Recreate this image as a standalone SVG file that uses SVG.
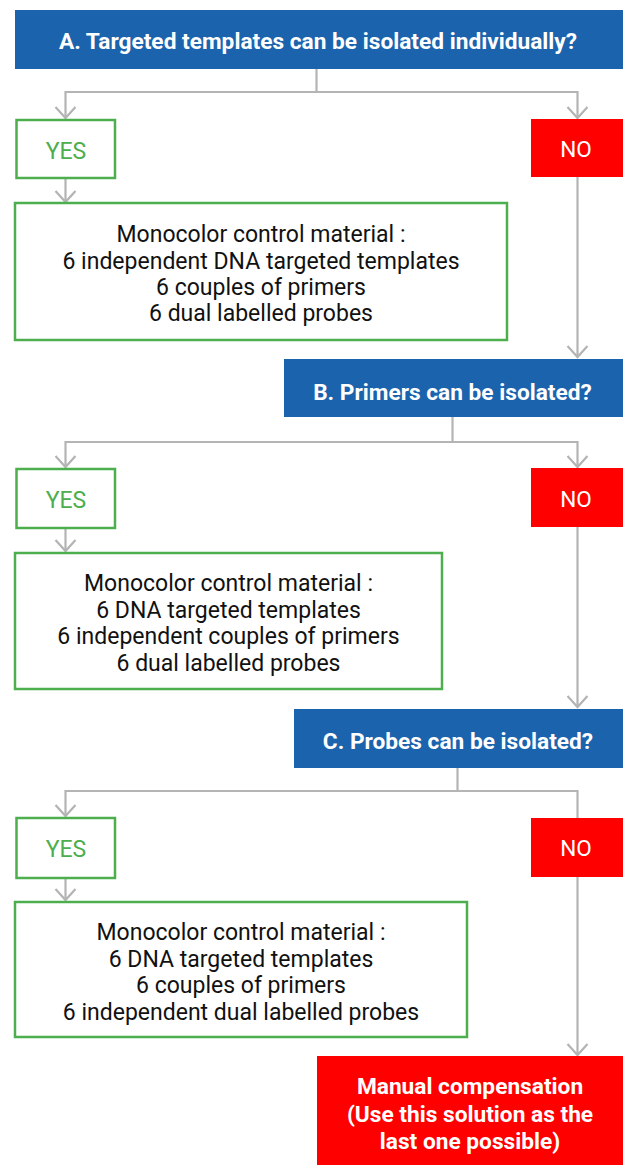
<svg xmlns="http://www.w3.org/2000/svg" width="623" height="1165" viewBox="0 0 623 1165">
<defs>
<style>
.q{fill:#1b63ad}
.qt{font-family:Roboto,"Liberation Sans",sans-serif;font-weight:bold;font-size:22.7px;fill:#fff;text-anchor:middle}
.yes{fill:#fff;stroke:#4cae4c;stroke-width:2.5}
.yt{font-family:Roboto,"Liberation Sans",sans-serif;font-size:23px;fill:#4cae4c;text-anchor:middle}
.no{fill:#ff0000}
.nt{font-family:Roboto,"Liberation Sans",sans-serif;font-size:22.5px;fill:#fff;text-anchor:middle}
.mt{font-family:Roboto,"Liberation Sans",sans-serif;font-size:23px;fill:#111;text-anchor:middle}
.c{fill:none;stroke:#b4b4b4;stroke-width:2.2}
</style>
<marker id="ah" markerUnits="userSpaceOnUse" markerWidth="30" markerHeight="30" refX="0" refY="0" viewBox="-15 -15 30 30" orient="auto" overflow="visible">
<path d="M-11,-10 L0,0 L-11,10" fill="none" stroke="#b4b4b4" stroke-width="2.2"/>
</marker>
</defs>
<rect width="623" height="1165" fill="#fff"/>

<g id="connectors">
<path class="c" d="M316.5,69 V92"/>
<path class="c" d="M65.5,92 H577.5"/>
<path class="c" d="M65.5,91 V118" marker-end="url(#ah)"/>
<path class="c" d="M577.5,91 V118" marker-end="url(#ah)"/>
<path class="c" d="M65.5,178 V202" marker-end="url(#ah)"/>
<path class="c" d="M577.5,177 V357" marker-end="url(#ah)"/>

<path class="c" d="M452.5,417 V442"/>
<path class="c" d="M65.5,442 H577.5"/>
<path class="c" d="M65.5,441 V467" marker-end="url(#ah)"/>
<path class="c" d="M577.5,441 V467" marker-end="url(#ah)"/>
<path class="c" d="M65.5,528 V551" marker-end="url(#ah)"/>
<path class="c" d="M577.5,527 V707" marker-end="url(#ah)"/>

<path class="c" d="M457.5,768 V791"/>
<path class="c" d="M65.5,791 H577.5"/>
<path class="c" d="M65.5,790 V816" marker-end="url(#ah)"/>
<path class="c" d="M577.5,790 V818"/>
<path class="c" d="M65.5,878 V900" marker-end="url(#ah)"/>
<path class="c" d="M577.5,877 V1055" marker-end="url(#ah)"/>
</g>

<g id="qA">
<rect class="q" x="15" y="10" width="608" height="59"/>
<text class="qt" x="318" y="49">A. Targeted templates can be isolated individually?</text>
</g>
<g id="yesA">
<rect class="yes" x="16.5" y="120" width="98.5" height="58"/>
<text class="yt" x="66" y="159">YES</text>
</g>
<g id="noA">
<rect class="no" x="531" y="119" width="92" height="58"/>
<text class="nt" x="576" y="157">NO</text>
</g>
<g id="matA">
<rect class="yes" x="15" y="203" width="492" height="137"/>
<text class="mt" x="261" y="242">Monocolor control material :</text>
<text class="mt" x="261" y="268.5">6 independent DNA targeted templates</text>
<text class="mt" x="261" y="295">6 couples of primers</text>
<text class="mt" x="261" y="321">6 dual labelled probes</text>
</g>

<g id="qB">
<rect class="q" x="284" y="359" width="339" height="58"/>
<text class="qt" x="452.5" y="400">B. Primers can be isolated?</text>
</g>
<g id="yesB">
<rect class="yes" x="16.5" y="469" width="98.5" height="59"/>
<text class="yt" x="66" y="508">YES</text>
</g>
<g id="noB">
<rect class="no" x="531" y="468" width="92" height="59"/>
<text class="nt" x="576" y="507">NO</text>
</g>
<g id="matB">
<rect class="yes" x="15" y="553" width="427" height="136"/>
<text class="mt" x="228.5" y="591">Monocolor control material :</text>
<text class="mt" x="228.5" y="617.5">6 DNA targeted templates</text>
<text class="mt" x="228.5" y="644">6 independent couples of primers</text>
<text class="mt" x="228.5" y="670.5">6 dual labelled probes</text>
</g>

<g id="qC">
<rect class="q" x="294" y="709" width="329" height="59"/>
<text class="qt" x="458" y="749">C. Probes can be isolated?</text>
</g>
<g id="yesC">
<rect class="yes" x="16.5" y="818" width="98.5" height="60"/>
<text class="yt" x="66" y="857">YES</text>
</g>
<g id="noC">
<rect class="no" x="531" y="818" width="92" height="59"/>
<text class="nt" x="576" y="856">NO</text>
</g>
<g id="matC">
<rect class="yes" x="15" y="902" width="452" height="135"/>
<text class="mt" x="241" y="940">Monocolor control material :</text>
<text class="mt" x="241" y="966.5">6 DNA targeted templates</text>
<text class="mt" x="241" y="993">6 couples of primers</text>
<text class="mt" x="241" y="1019.5">6 independent dual labelled probes</text>
</g>

<g id="manual">
<rect class="no" x="317" y="1056" width="306" height="109"/>
<text class="qt" x="470" y="1094">Manual compensation</text>
<text class="qt" x="470" y="1121.5">(Use this solution as the</text>
<text class="qt" x="470" y="1149">last one possible)</text>
</g>
</svg>
